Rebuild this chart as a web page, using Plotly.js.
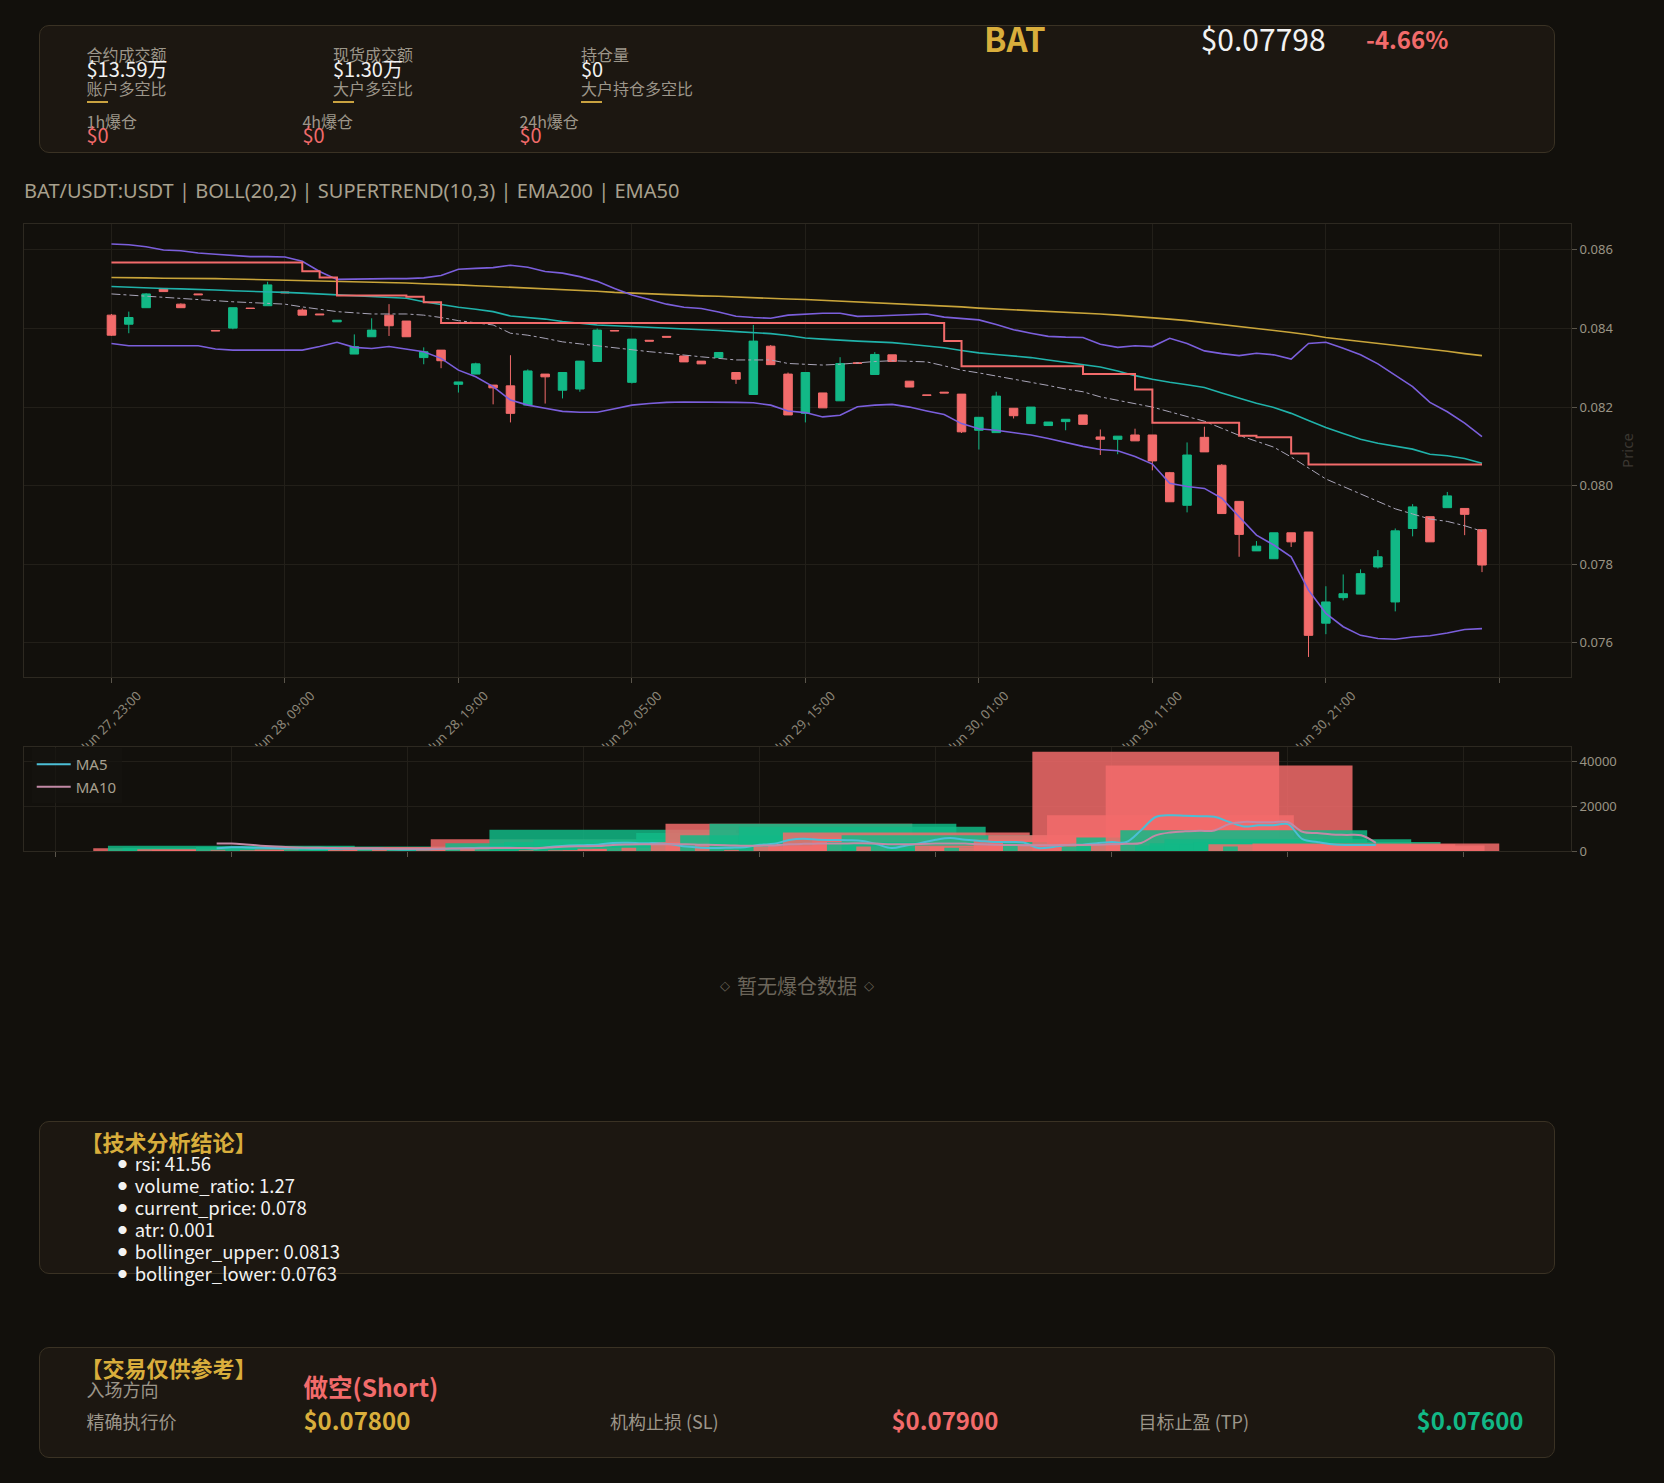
<!DOCTYPE html>
<html><head><meta charset="utf-8">
<script src="https://cdn.plot.ly/plotly-3.0.1.min.js"></script>
<style>
html,body{margin:0;padding:0;background:#12100c;}
#page{position:relative;width:1664px;height:1483px;background:#12100c;overflow:hidden;font-family:"Noto Sans CJK SC","Noto Sans",sans-serif;}
.card{position:absolute;background:#1c1711;border:1px solid #3a3224;border-radius:10px;box-sizing:border-box;}
.t{position:absolute;white-space:nowrap;line-height:1;transform:translateY(-50%);}
.gl{position:absolute;height:2px;width:21px;background:#c9a240;}
#price{position:absolute;left:0;top:160px;width:1664px;height:586px;overflow:hidden;}
#vol{position:absolute;left:0;top:745px;width:1664px;height:122px;overflow:hidden;}
</style></head>
<body><div id="page">
<div class="card" style="left:39px;top:25px;width:1516px;height:128px"></div>
<div class="card" style="left:39px;top:1121px;width:1516px;height:153px"></div>
<div class="card" style="left:39px;top:1347px;width:1516px;height:111px"></div>
<div id="price"></div>
<div id="vol"></div>
</div>
<script>
// ---------------- DATA ----------------
const symbol = 'BAT';
const lastPrice = '$0.07798';
const changePct = '-4.66%';
const statLabels = ['合约成交额','现货成交额','持仓量'];
const statValues = ['$13.59万','$1.30万','$0'];
const ratioLabels = ['账户多空比','大户多空比','大户持仓多空比'];
const liqLabels = ['1h爆仓','4h爆仓','24h爆仓'];
const liqValues = ['$0','$0','$0'];
const analysisTitle = '【技术分析结论】';
const analysisItems = ['rsi: 41.56','volume_ratio: 1.27','current_price: 0.078','atr: 0.001','bollinger_upper: 0.0813','bollinger_lower: 0.0763'];
const tradeTitle = '【交易仅供参考】';
const tradeDirection = '做空(Short)';
const tradeEntry = '$0.07800';
const tradeSL = '$0.07900';
const tradeTP = '$0.07600';
const chartTitle = 'BAT/USDT:USDT | BOLL(20,2) | SUPERTREND(10,3) | EMA200 | EMA50';
const emptyLiqText = '暂无爆仓数据';

const startUTC = Date.UTC(2025,5,27,23,0,0); // first hourly candle: Jun 27, 23:00
const nCandles = 80;

const open = [0.08434,0.08411,0.08453,0.08502,0.08462,0.08488,0.08395,0.08401,0.08452,0.08458,
0.08493,0.08447,0.08437,0.08417,0.08335,0.08379,0.08434,0.08419,0.08326,0.08345,
0.08258,0.08284,0.08256,0.08254,0.08205,0.08284,0.08243,0.08246,0.08316,0.08395,
0.08263,0.08370,0.08380,0.08330,0.08317,0.08326,0.08288,0.08232,0.08355,0.08284,
0.08184,0.08236,0.08216,0.08313,0.08283,0.08333,0.08266,0.08231,0.08238,0.08233,
0.08141,0.08135,0.08197,0.08158,0.08153,0.08163,0.08180,0.08124,0.08118,0.08129,
0.08129,0.08033,0.07950,0.08123,0.08052,0.07960,0.07834,0.07814,0.07880,0.07882,
0.07650,0.07715,0.07724,0.07793,0.07704,0.07891,0.07921,0.07944,0.07942,0.07888];
const high = [0.08437,0.08443,0.08490,0.08503,0.08464,0.08488,0.08395,0.08453,0.08452,0.08519,
0.08493,0.08451,0.08437,0.08421,0.08385,0.08426,0.08462,0.08419,0.08352,0.08345,
0.08264,0.08313,0.08256,0.08332,0.08296,0.08284,0.08288,0.08317,0.08400,0.08395,
0.08373,0.08370,0.08380,0.08330,0.08317,0.08339,0.08288,0.08409,0.08358,0.08288,
0.08288,0.08236,0.08327,0.08313,0.08340,0.08333,0.08266,0.08231,0.08238,0.08233,
0.08174,0.08239,0.08197,0.08200,0.08162,0.08169,0.08180,0.08143,0.08126,0.08145,
0.08129,0.08035,0.08110,0.08150,0.08055,0.07960,0.07859,0.07880,0.07880,0.07882,
0.07744,0.07774,0.07787,0.07836,0.07891,0.07953,0.07921,0.07984,0.07942,0.07888];
const low = [0.08381,0.08388,0.08453,0.08494,0.08453,0.08486,0.08394,0.08398,0.08451,0.08458,
0.08491,0.08434,0.08435,0.08417,0.08335,0.08379,0.08381,0.08379,0.08309,0.08299,
0.08237,0.08284,0.08207,0.08161,0.08205,0.08209,0.08222,0.08239,0.08316,0.08394,
0.08260,0.08368,0.08378,0.08315,0.08310,0.08326,0.08259,0.08232,0.08308,0.08180,
0.08161,0.08198,0.08216,0.08311,0.08283,0.08316,0.08251,0.08230,0.08236,0.08134,
0.08092,0.08135,0.08171,0.08158,0.08153,0.08141,0.08156,0.08078,0.08080,0.08114,
0.08039,0.07959,0.07932,0.08086,0.07929,0.07819,0.07834,0.07814,0.07844,0.07564,
0.07622,0.07708,0.07724,0.07789,0.07680,0.07871,0.07857,0.07944,0.07874,0.07780];
const close = [0.08383,0.08428,0.08488,0.08494,0.08453,0.08486,0.08394,0.08453,0.08451,0.08511,
0.08491,0.08434,0.08435,0.08421,0.08354,0.08396,0.08407,0.08379,0.08341,0.08318,
0.08264,0.08310,0.08249,0.08184,0.08292,0.08277,0.08288,0.08317,0.08396,0.08394,
0.08373,0.08368,0.08378,0.08315,0.08310,0.08339,0.08271,0.08368,0.08308,0.08180,
0.08288,0.08198,0.08311,0.08311,0.08334,0.08316,0.08251,0.08230,0.08236,0.08137,
0.08174,0.08228,0.08178,0.08200,0.08162,0.08169,0.08156,0.08118,0.08126,0.08114,
0.08063,0.07959,0.08078,0.08086,0.07929,0.07876,0.07846,0.07880,0.07857,0.07619,
0.07704,0.07725,0.07776,0.07819,0.07885,0.07946,0.07857,0.07974,0.07927,0.07798];

const bbUpper = [0.08615,0.08613,0.08608,0.08600,0.08598,0.08592,0.08589,0.08586,0.08583,0.08583,
0.08582,0.08571,0.08545,0.08525,0.08526,0.08526,0.08527,0.08527,0.08529,0.08535,
0.08551,0.08553,0.08555,0.08561,0.08556,0.08545,0.08541,0.08532,0.08520,0.08502,
0.08485,0.08474,0.08462,0.08454,0.08451,0.08442,0.08431,0.08428,0.08426,0.08434,
0.08437,0.08439,0.08439,0.08431,0.08432,0.08434,0.08435,0.08437,0.08429,0.08426,
0.08422,0.08410,0.08397,0.08388,0.08380,0.08378,0.08377,0.08360,0.08352,0.08356,
0.08354,0.08375,0.08362,0.08343,0.08336,0.08331,0.08337,0.08333,0.08322,0.08362,
0.08365,0.08350,0.08333,0.08310,0.08282,0.08252,0.08212,0.08188,0.08159,0.08125];
const bbLower = [0.08362,0.08356,0.08356,0.08356,0.08356,0.08356,0.08348,0.08345,0.08345,0.08345,
0.08345,0.08345,0.08354,0.08365,0.08352,0.08349,0.08354,0.08348,0.08341,0.08324,
0.08294,0.08277,0.08252,0.08218,0.08205,0.08197,0.08189,0.08187,0.08187,0.08196,
0.08205,0.08209,0.08212,0.08213,0.08213,0.08213,0.08212,0.08211,0.08205,0.08190,
0.08186,0.08175,0.08179,0.08201,0.08205,0.08207,0.08200,0.08190,0.08181,0.08158,
0.08145,0.08141,0.08135,0.08129,0.08120,0.08110,0.08100,0.08092,0.08089,0.08074,
0.08055,0.08006,0.07998,0.07993,0.07968,0.07921,0.07874,0.07849,0.07819,0.07734,
0.07675,0.07641,0.07619,0.07611,0.07609,0.07615,0.07618,0.07625,0.07634,0.07636];
const bbMid = [0.08488,0.08485,0.08482,0.08479,0.08476,0.08473,0.08470,0.08468,0.08466,0.08464,
0.08462,0.08455,0.08449,0.08443,0.08440,0.08437,0.08437,0.08437,0.08434,0.08428,
0.08420,0.08415,0.08409,0.08388,0.08383,0.08375,0.08366,0.08361,0.08356,0.08350,
0.08345,0.08341,0.08337,0.08332,0.08328,0.08324,0.08320,0.08320,0.08320,0.08311,
0.08309,0.08307,0.08309,0.08313,0.08316,0.08318,0.08317,0.08315,0.08305,0.08294,
0.08287,0.08279,0.08271,0.08264,0.08255,0.08246,0.08239,0.08226,0.08217,0.08209,
0.08200,0.08188,0.08176,0.08164,0.08146,0.08128,0.08113,0.08098,0.08073,0.08045,
0.08017,0.07998,0.07979,0.07960,0.07941,0.07928,0.07915,0.07909,0.07898,0.07884];
const ema50 = [0.08507,0.08505,0.08503,0.08502,0.08501,0.08500,0.08498,0.08496,0.08495,0.08493,
0.08492,0.08490,0.08488,0.08485,0.08483,0.08481,0.08479,0.08477,0.08468,0.08461,
0.08454,0.08449,0.08443,0.08432,0.08428,0.08424,0.08418,0.08413,0.08409,0.08407,
0.08405,0.08404,0.08402,0.08400,0.08398,0.08395,0.08392,0.08390,0.08387,0.08382,
0.08376,0.08373,0.08370,0.08368,0.08366,0.08364,0.08360,0.08355,0.08351,0.08344,
0.08338,0.08334,0.08330,0.08326,0.08320,0.08314,0.08309,0.08302,0.08292,0.08280,
0.08271,0.08263,0.08257,0.08250,0.08236,0.08222,0.08210,0.08199,0.08184,0.08166,
0.08148,0.08133,0.08118,0.08108,0.08100,0.08093,0.08080,0.08076,0.08069,0.08057];
const ema200 = [0.08530,0.08530,0.08529,0.08528,0.08528,0.08527,0.08527,0.08526,0.08525,0.08525,
0.08524,0.08523,0.08522,0.08521,0.08520,0.08519,0.08517,0.08516,0.08514,0.08513,
0.08511,0.08509,0.08507,0.08505,0.08503,0.08502,0.08499,0.08497,0.08495,0.08492,
0.08490,0.08488,0.08487,0.08485,0.08483,0.08482,0.08480,0.08478,0.08477,0.08475,
0.08474,0.08472,0.08470,0.08468,0.08466,0.08464,0.08461,0.08459,0.08457,0.08455,
0.08452,0.08450,0.08448,0.08446,0.08444,0.08442,0.08440,0.08437,0.08434,0.08431,
0.08428,0.08424,0.08420,0.08415,0.08411,0.08406,0.08401,0.08396,0.08390,0.08384,
0.08377,0.08372,0.08367,0.08363,0.08358,0.08353,0.08347,0.08342,0.08336,0.08331];
const supertrend = [0.08568,0.08568,0.08568,0.08568,0.08568,0.08568,0.08568,0.08568,0.08568,0.08568,
0.08568,0.08546,0.08530,0.08484,0.08484,0.08484,0.08484,0.08481,0.08467,0.08414,
0.08414,0.08414,0.08414,0.08414,0.08414,0.08414,0.08414,0.08414,0.08414,0.08414,
0.08414,0.08414,0.08414,0.08414,0.08414,0.08414,0.08414,0.08414,0.08414,0.08414,
0.08414,0.08414,0.08414,0.08414,0.08414,0.08414,0.08414,0.08414,0.08368,0.08304,
0.08304,0.08304,0.08304,0.08304,0.08304,0.08304,0.08284,0.08284,0.08284,0.08245,
0.08160,0.08160,0.08160,0.08160,0.08160,0.08127,0.08123,0.08123,0.08082,0.08054,
0.08054,0.08054,0.08054,0.08054,0.08054,0.08054,0.08054,0.08054,0.08054,0.08054];

const volume = [1200,2300,1500,800,600,500,400,1800,300,2000,
300,700,300,400,1500,1200,1500,1800,1000,1500,
800,1200,1000,5200,3500,1500,2000,9500,4000,300,
5000,300,300,1000,800,1000,1500,8000,4000,12200,
7000,3000,12200,500,10800,2000,2500,8300,1000,6000,
4000,7000,2000,3000,800,1500,2500,2000,1500,1500,
5000,7000,4000,3000,44400,16000,2000,6000,3000,38200,
9300,2500,3500,5300,3000,4000,3000,2000,2500,3400];
const volMA5 = [1200,1700,1600,1400,1300,1200,1100,1000,900,1000,
1000,1000,800,700,800,900,1100,1300,1400,1400,
1400,1300,1200,2000,2500,2600,2800,3600,3700,3500,
3500,3000,2000,1500,1300,1500,1700,2800,3200,4900,
5500,5000,4900,4800,4500,3000,1300,2500,3600,5000,
5800,5000,4500,4000,4000,3800,1300,1800,2700,2800,
3500,4000,4000,9300,15200,16000,15800,15500,15300,13000,
11000,11500,11500,12000,5300,4000,3000,2700,2700,2700];
const volMA10 = [3400,3300,2900,2400,2000,1700,1500,1400,1300,1200,
1100,1100,1000,1000,1000,1000,1100,1100,1200,1300,
1300,1300,1300,1700,2000,2100,2200,2700,2900,3000,
3000,3000,3000,2800,2700,2500,2300,2400,2500,3000,
3200,3300,3400,3400,3500,3300,3000,3000,3100,3300,
3400,3300,3000,2800,2700,2600,2600,2600,2700,2700,
2800,3000,3200,3600,7000,8300,8800,9000,9200,12000,
13000,12900,12900,13000,8600,8000,7400,7200,7000,3600];

const priceTickLabels = ['Jun 27, 23:00','Jun 28, 09:00','Jun 28, 19:00','Jun 29, 05:00','Jun 29, 15:00','Jun 30, 01:00','Jun 30, 11:00','Jun 30, 21:00',''];
const priceTickHours = [0,10,20,30,40,50,60,70,80];
const priceTicks = [0.076,0.078,0.080,0.082,0.084,0.086];
const volTicks = [0,20000,40000];

// ---------------- HELPERS ----------------
function ts(h){ return new Date(startUTC + h*3600000).toISOString().slice(0,23).replace('T',' '); }
const times = []; for (let i=0;i<nCandles;i++) times.push(ts(i));

const C = {green:'#12b886', red:'#f26b6b', gold:'#d9ae3c', grey:'#9c968a', white:'#f2f2f2', purple:'#7b5fdc', teal:'#20b2aa', ema200:'#c9a53a', mid:'#a9a5b8'};

const page = document.getElementById('page');
function txt(s, x, y, size, color, weight, extra){
  const d = document.createElement('div');
  d.className = 't';
  d.textContent = s;
  d.style.left = x+'px'; d.style.top = y+'px';
  d.style.fontSize = size+'px'; d.style.color = color;
  if (weight) d.style.fontWeight = weight;
  if (extra) Object.assign(d.style, extra);
  page.appendChild(d);
  return d;
}
function gline(x,y){ const d=document.createElement('div'); d.className='gl'; d.style.left=x+'px'; d.style.top=y+'px'; page.appendChild(d); }

// ---------------- HEADER CARD ----------------
const colX = [86.5, 333, 581];
for (let k=0;k<3;k++){
  txt(statLabels[k], colX[k], 54, 16, C.grey);
  txt(statValues[k], colX[k], 69, 20, C.white);
  txt(ratioLabels[k], colX[k], 88, 16, C.grey);
  gline(colX[k], 101);
}
const liqX = [86.5, 302.4, 519.4];
for (let k=0;k<3;k++){
  txt(liqLabels[k], liqX[k], 121, 16, C.grey);
  txt(liqValues[k], liqX[k], 134.5, 20, C.red);
}
txt(symbol, 984, 38, 33, C.gold, '700');
txt(lastPrice, 1200.7, 38, 30, C.white);
txt(changePct, 1366, 39, 24, C.red, '700');

// ---------------- ANALYSIS CARD ----------------
txt(analysisTitle, 80.5, 1141, 22, C.gold, '700');
analysisItems.forEach((s,k)=>{
  const y = 1162.5 + 22*k;
  txt('●', 118, y, 9, C.white);
  txt(s, 134.7, y, 18.5, C.white);
});

// ---------------- TRADE CARD ----------------
txt(tradeTitle, 80.5, 1367, 22, C.gold, '700');
txt('入场方向', 86.5, 1389, 18, C.grey);
txt(tradeDirection, 303.4, 1387, 24.5, C.red, '700');
txt('精确执行价', 86.5, 1421, 18, C.grey);
txt(tradeEntry, 303.4, 1420, 24, C.gold, '700');
txt('机构止损 (SL)', 610, 1421, 18, C.grey);
txt(tradeSL, 891.4, 1420, 24, C.red, '700');
txt('目标止盈 (TP)', 1138.6, 1421, 18, C.grey);
txt(tradeTP, 1416.6, 1420, 24, C.green, '700');

// empty liquidation chart message
(function(){
  const d = txt('', 797, 984, 20, '#6b655a', null, {transform:'translate(-50%,-50%)'});
  const a = document.createElement('span'); a.textContent='◇'; a.style.fontSize='13px'; a.style.fontFamily='"DejaVu Sans",sans-serif'; a.style.verticalAlign='middle';
  const m = document.createElement('span'); m.textContent=emptyLiqText; m.style.verticalAlign='middle'; m.style.margin='0 7px';
  const b = a.cloneNode(true);
  d.appendChild(a); d.appendChild(m); d.appendChild(b);
})();

// ---------------- PRICE CHART ----------------
const FONT = '"Noto Sans", "Noto Sans CJK SC", sans-serif';
const gridC = '#221f19', lineC = '#2d2921';
const priceTraces = [
  {type:'candlestick', x:times, open:open, high:high, low:low, close:close,
   increasing:{line:{color:C.green,width:1}, fillcolor:C.green},
   decreasing:{line:{color:C.red,width:1}, fillcolor:C.red}, whiskerwidth:0, name:'K', showlegend:false},
  {type:'scatter', mode:'lines', x:times, y:ema200, line:{color:C.ema200,width:1.6}, name:'EMA200'},
  {type:'scatter', mode:'lines', x:times, y:bbUpper, line:{color:C.purple,width:1.6}, name:'BB Upper'},
  {type:'scatter', mode:'lines', x:times, y:bbLower, line:{color:C.purple,width:1.6}, name:'BB Lower'},
  {type:'scatter', mode:'lines', x:times, y:bbMid, line:{color:C.mid,width:1,dash:'dashdot'}, name:'BB Mid'},
  {type:'scatter', mode:'lines', x:times, y:ema50, line:{color:C.teal,width:1.6}, name:'EMA50'},
  {type:'scatter', mode:'lines', x:times, y:supertrend, line:{color:C.red,width:2,shape:'hv'}, name:'SuperTrend'}
];
const priceLayout = {
  width:1664, height:586, margin:{l:24,r:93,t:64,b:69},
  paper_bgcolor:'rgba(0,0,0,0)', plot_bgcolor:'#12100c',
  font:{family:FONT, color:'#9a9484'},
  showlegend:false,
  title:{text:chartTitle, xref:'container', x:24/1664, xanchor:'left', yref:'container', y:1-31/586, yanchor:'middle', font:{size:20,color:'#a8a08e',family:FONT}},
  xaxis:{type:'date', range:[ts(-5.04), ts(84.13)], tickvals:priceTickHours.map(ts), ticktext:priceTickLabels,
    tickangle:-45, ticklabelshift:26, ticks:'outside', ticklen:5, tickcolor:'#5a554b', tickfont:{size:13,color:'#8c8678'},
    gridcolor:gridC, showline:true, linecolor:lineC, mirror:true, zeroline:false, rangeslider:{visible:false}},
  yaxis:{side:'right', range:[0.07513,0.08666], tickvals:priceTicks, tickformat:'.3f', ticks:'outside', ticklen:5, tickcolor:'#5a554b',
    tickfont:{size:13,color:'#9a9484'}, gridcolor:gridC, showline:true, linecolor:lineC, mirror:true, zeroline:false,
    title:{text:'Price', font:{size:15,color:'#3b3731'}, standoff:10}}
};
Plotly.newPlot('price', priceTraces, priceLayout, {displayModeBar:false, staticPlot:true});

// ---------------- VOLUME CHART ----------------
const volColors = close.map((c,i)=> c>=open[i] ? C.green : C.red);
const volTraces = [
  {type:'bar', x:times, y:volume, width:60552000, marker:{color:volColors, opacity:0.85, line:{width:0}}, showlegend:false, name:'Volume'},
  {type:'scatter', mode:'lines', x:times, y:volMA5, line:{color:'#4cbfd6',width:2,shape:'spline'}, name:'MA5'},
  {type:'scatter', mode:'lines', x:times, y:volMA10, line:{color:'#c28aa6',width:2,shape:'spline'}, name:'MA10'}
];
const volLayout = {
  width:1664, height:122, margin:{l:24,r:93,t:2,b:16},
  paper_bgcolor:'rgba(0,0,0,0)', plot_bgcolor:'#12100c',
  font:{family:FONT, color:'#9a9484'}, barmode:'overlay',
  legend:{x:0.005, y:0.99, xanchor:'left', yanchor:'top', bgcolor:'rgba(22,20,16,0.7)', font:{size:15,color:'#a8a090'},
    itemwidth:34},
  xaxis:{type:'date', range:[ts(-13.13), ts(92.3)], dtick:43200000, tick0:'2025-06-28 00:00', showticklabels:false,
    ticks:'outside', ticklen:5, tickcolor:'#5a554b', gridcolor:gridC, showline:true, linecolor:lineC, mirror:true, zeroline:false},
  yaxis:{side:'right', range:[0,46500], tickvals:volTicks, tickformat:'d', ticks:'outside', ticklen:5, tickcolor:'#5a554b',
    tickfont:{size:13,color:'#9a9484'}, gridcolor:gridC, showline:true, linecolor:lineC, mirror:true, zeroline:false}
};
Plotly.newPlot('vol', volTraces, volLayout, {displayModeBar:false, staticPlot:true});
</script>
</body></html>
